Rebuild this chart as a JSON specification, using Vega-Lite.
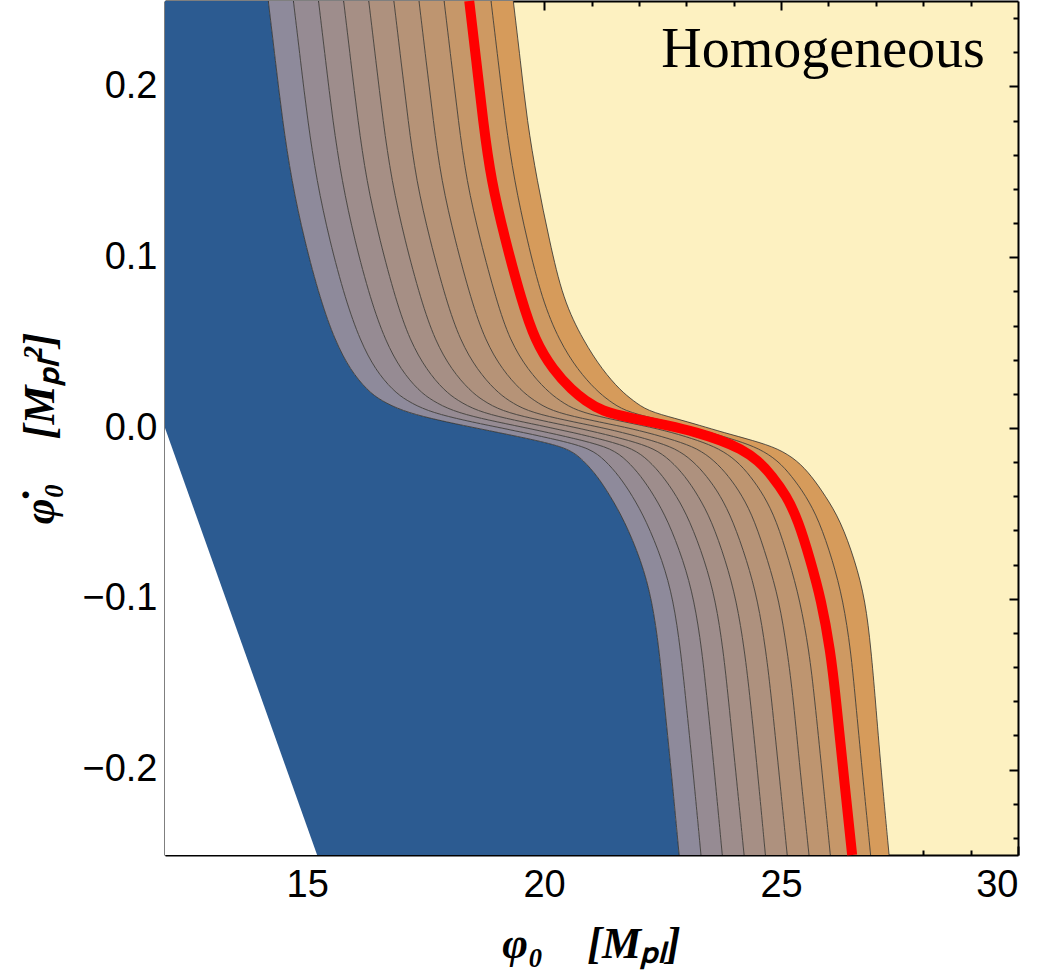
{
 "$schema": "https://vega.github.io/schema/vega-lite/v6.json",
 "width": 853, "height": 854,
 "autosize": {"type": "none"},
 "padding": {"left": 165, "top": 1, "right": 24, "bottom": 120},
 "background": "white",
 "config": {
  "view": {"fill": "#FDF1C1", "stroke": null},
  "axis": {"zindex": 1, "grid": false, "domainColor": "#000", "tickColor": "#000", "labelColor": "#000", "titleColor": "#000",
   "labelFont": "Liberation Sans", "labelFontSize": 38, "labelFontWeight": "normal",
   "titleFont": "Liberation Serif", "titleFontSize": 44, "titleFontWeight": "bold", "titleFontStyle": "italic",
   "domainWidth": 2, "tickWidth": 2}
 },
 "datasets": {
  "band": [
   {"y": 0.25, "c0": 14.18, "c1": 14.71, "c2": 15.24, "c3": 15.77, "c4": 16.30, "c5": 16.83, "c6": 17.36, "c7": 17.89, "c8": 18.42, "c9": 18.88, "c10": 19.35},
   {"y": 0.215, "c0": 14.33, "c1": 14.86, "c2": 15.39, "c3": 15.92, "c4": 16.45, "c5": 16.98, "c6": 17.51, "c7": 18.04, "c8": 18.57, "c9": 19.03, "c10": 19.50},
   {"y": 0.18, "c0": 14.48, "c1": 15.01, "c2": 15.54, "c3": 16.07, "c4": 16.60, "c5": 17.13, "c6": 17.66, "c7": 18.19, "c8": 18.71, "c9": 19.18, "c10": 19.64},
   {"y": 0.145, "c0": 14.67, "c1": 15.20, "c2": 15.73, "c3": 16.25, "c4": 16.78, "c5": 17.30, "c6": 17.83, "c7": 18.36, "c8": 18.88, "c9": 19.37, "c10": 19.85},
   {"y": 0.11, "c0": 14.94, "c1": 15.47, "c2": 16.00, "c3": 16.53, "c4": 17.06, "c5": 17.59, "c6": 18.12, "c7": 18.65, "c8": 19.18, "c9": 19.64, "c10": 20.11},
   {"y": 0.075, "c0": 15.28, "c1": 15.81, "c2": 16.34, "c3": 16.87, "c4": 17.40, "c5": 17.93, "c6": 18.46, "c7": 18.99, "c8": 19.52, "c9": 19.96, "c10": 20.40},
   {"y": 0.051, "c0": 15.59, "c1": 16.12, "c2": 16.65, "c3": 17.17, "c4": 17.70, "c5": 18.23, "c6": 18.76, "c7": 19.28, "c8": 19.81, "c9": 20.32, "c10": 20.83},
   {"y": 0.034, "c0": 15.91, "c1": 16.44, "c2": 16.98, "c3": 17.52, "c4": 18.05, "c5": 18.59, "c6": 19.12, "c7": 19.66, "c8": 20.19, "c9": 20.71, "c10": 21.23},
   {"y": 0.022, "c0": 16.27, "c1": 16.81, "c2": 17.35, "c3": 17.89, "c4": 18.43, "c5": 18.97, "c6": 19.51, "c7": 20.05, "c8": 20.59, "c9": 21.10, "c10": 21.61},
   {"y": 0.016, "c0": 16.56, "c1": 17.10, "c2": 17.64, "c3": 18.18, "c4": 18.71, "c5": 19.25, "c6": 19.79, "c7": 20.33, "c8": 20.87, "c9": 21.37, "c10": 21.88},
   {"y": 0.010, "c0": 17.01, "c1": 17.53, "c2": 18.06, "c3": 18.58, "c4": 19.10, "c5": 19.63, "c6": 20.15, "c7": 20.68, "c8": 21.20, "c9": 21.69, "c10": 22.18},
   {"y": 0.0056, "c0": 17.60, "c1": 18.13, "c2": 18.66, "c3": 19.19, "c4": 19.73, "c5": 20.26, "c6": 20.79, "c7": 21.33, "c8": 21.86, "c9": 22.31, "c10": 22.77},
   {"y": 0.0015, "c0": 18.29, "c1": 18.83, "c2": 19.37, "c3": 19.91, "c4": 20.46, "c5": 21.00, "c6": 21.54, "c7": 22.08, "c8": 22.62, "c9": 22.96, "c10": 23.29},
   {"y": -0.0026, "c0": 19.03, "c1": 19.56, "c2": 20.08, "c3": 20.61, "c4": 21.13, "c5": 21.66, "c6": 22.18, "c7": 22.71, "c8": 23.23, "c9": 23.50, "c10": 23.78},
   {"y": -0.0073, "c0": 19.85, "c1": 20.34, "c2": 20.82, "c3": 21.31, "c4": 21.80, "c5": 22.28, "c6": 22.77, "c7": 23.25, "c8": 23.74, "c9": 24.07, "c10": 24.41},
   {"y": -0.012, "c0": 20.53, "c1": 20.98, "c2": 21.43, "c3": 21.88, "c4": 22.33, "c5": 22.78, "c6": 23.24, "c7": 23.69, "c8": 24.14, "c9": 24.54, "c10": 24.94},
   {"y": -0.019, "c0": 20.83, "c1": 21.29, "c2": 21.75, "c3": 22.21, "c4": 22.67, "c5": 23.13, "c6": 23.59, "c7": 24.06, "c8": 24.52, "c9": 24.93, "c10": 25.34},
   {"y": -0.028, "c0": 21.12, "c1": 21.58, "c2": 22.04, "c3": 22.50, "c4": 22.97, "c5": 23.43, "c6": 23.89, "c7": 24.35, "c8": 24.81, "c9": 25.22, "c10": 25.64},
   {"y": -0.0395, "c0": 21.39, "c1": 21.86, "c2": 22.32, "c3": 22.79, "c4": 23.25, "c5": 23.72, "c6": 24.18, "c7": 24.64, "c8": 25.11, "c9": 25.52, "c10": 25.93},
   {"y": -0.054, "c0": 21.69, "c1": 22.15, "c2": 22.61, "c3": 23.07, "c4": 23.53, "c5": 23.98, "c6": 24.44, "c7": 24.90, "c8": 25.36, "c9": 25.80, "c10": 26.25},
   {"y": -0.0775, "c0": 22.05, "c1": 22.50, "c2": 22.94, "c3": 23.39, "c4": 23.83, "c5": 24.28, "c6": 24.72, "c7": 25.17, "c8": 25.62, "c9": 26.09, "c10": 26.56},
   {"y": -0.101, "c0": 22.28, "c1": 22.73, "c2": 23.17, "c3": 23.62, "c4": 24.06, "c5": 24.51, "c6": 24.96, "c7": 25.40, "c8": 25.85, "c9": 26.31, "c10": 26.78},
   {"y": -0.13, "c0": 22.43, "c1": 22.88, "c2": 23.33, "c3": 23.78, "c4": 24.23, "c5": 24.68, "c6": 25.13, "c7": 25.59, "c8": 26.04, "c9": 26.47, "c10": 26.90},
   {"y": -0.159, "c0": 22.53, "c1": 22.99, "c2": 23.44, "c3": 23.89, "c4": 24.35, "c5": 24.80, "c6": 25.26, "c7": 25.71, "c8": 26.16, "c9": 26.57, "c10": 26.99},
   {"y": -0.2, "c0": 22.68, "c1": 23.14, "c2": 23.59, "c3": 24.04, "c4": 24.50, "c5": 24.95, "c6": 25.40, "c7": 25.86, "c8": 26.31, "c9": 26.71, "c10": 27.11},
   {"y": -0.25, "c0": 22.85, "c1": 23.31, "c2": 23.76, "c3": 24.22, "c4": 24.67, "c5": 25.13, "c6": 25.59, "c7": 26.04, "c8": 26.50, "c9": 26.89, "c10": 27.28}
  ],
  "tri": [
   {"y": 0, "a": 12, "b": 12},
   {"y": -0.25, "a": 12, "b": 15.21}
  ],
  "lbl": [
   {"t": "Homogeneous", "x": 29.3, "y": 0.2115}
  ]
 },
 "layer": [
  {"data": {"name": "band"}, "mark": {"type": "area", "orient": "horizontal", "interpolate": "basis", "color": "#2C5B91"},
   "encoding": {"y": {"field": "y", "type": "quantitative", "scale": {"domain": [-0.25, 0.25], "nice": false, "zero": false}, "axis": null},
    "x": {"field": "c0", "type": "quantitative", "scale": {"domain": [12, 30], "nice": false, "zero": false}, "axis": null},
    "x2": {"datum": 12}}},
  {"data": {"name": "band"}, "mark": {"type": "area", "orient": "horizontal", "interpolate": "basis", "color": "#8E8A9B"},
   "encoding": {"y": {"field": "y", "type": "quantitative", "scale": {"domain": [-0.25, 0.25], "nice": false, "zero": false},
     "axis": {"orient": "left", "values": [-0.2, -0.1, 0, 0.1, 0.2], "format": ".1f", "tickSize": -9, "labelPadding": 17, "domain": true,
      "title": "φ̇₀\u2003[Mₚₗ²]", "titleAngle": 270, "titleX": -112, "titleY": 427, "titleAlign": "center", "titleBaseline": "alphabetic"}},
    "x": {"field": "c0", "type": "quantitative", "scale": {"domain": [12, 30], "nice": false, "zero": false},
     "axis": {"orient": "bottom", "values": [15, 20, 25, 30], "tickSize": -9, "labelPadding": 20, "domain": true,
      "title": "φ₀\u2003[Mₚₗ]", "titleX": 426, "titleY": 102, "titleAlign": "center", "titleBaseline": "alphabetic"}},
    "x2": {"field": "c1"}}},
  {"data": {"name": "band"}, "mark": {"type": "area", "orient": "horizontal", "interpolate": "basis", "color": "#968B93"},
   "encoding": {"y": {"field": "y", "type": "quantitative", "scale": {"domain": [-0.25, 0.25], "nice": false, "zero": false},
     "axis": {"orient": "left", "values": [-0.24, -0.22, -0.18, -0.16, -0.14, -0.12, -0.08, -0.06, -0.04, -0.02, 0.02, 0.04, 0.06, 0.08, 0.12, 0.14, 0.16, 0.18, 0.22, 0.24], "tickSize": -5, "labels": false, "domain": false, "title": null}},
    "x": {"field": "c1", "type": "quantitative", "scale": {"domain": [12, 30], "nice": false, "zero": false},
     "axis": {"orient": "bottom", "values": [13, 14, 16, 17, 18, 19, 21, 22, 23, 24, 26, 27, 28, 29], "tickSize": -5, "labels": false, "domain": false, "title": null}},
    "x2": {"field": "c2"}}},
  {"data": {"name": "band"}, "mark": {"type": "area", "orient": "horizontal", "interpolate": "basis", "color": "#9E8D8C"},
   "encoding": {"y": {"field": "y", "type": "quantitative", "scale": {"domain": [-0.25, 0.25], "nice": false, "zero": false},
     "axis": {"orient": "right", "values": [-0.2, -0.1, 0, 0.1, 0.2], "tickSize": -9, "labels": false, "domain": true, "title": null}},
    "x": {"field": "c2", "type": "quantitative", "scale": {"domain": [12, 30], "nice": false, "zero": false},
     "axis": {"orient": "top", "values": [15, 20, 25], "tickSize": -9, "labels": false, "domain": true, "title": null}},
    "x2": {"field": "c3"}}},
  {"data": {"name": "band"}, "mark": {"type": "area", "orient": "horizontal", "interpolate": "basis", "color": "#A68F85"},
   "encoding": {"y": {"field": "y", "type": "quantitative", "scale": {"domain": [-0.25, 0.25], "nice": false, "zero": false},
     "axis": {"orient": "right", "values": [-0.24, -0.22, -0.18, -0.16, -0.14, -0.12, -0.08, -0.06, -0.04, -0.02, 0.02, 0.04, 0.06, 0.08, 0.12, 0.14, 0.16, 0.18, 0.22, 0.24], "tickSize": -5, "labels": false, "domain": false, "title": null}},
    "x": {"field": "c3", "type": "quantitative", "scale": {"domain": [12, 30], "nice": false, "zero": false},
     "axis": {"orient": "top", "values": [13, 14, 16, 17, 18, 19, 21, 22, 23, 24, 26, 27, 28, 29], "tickSize": -5, "labels": false, "domain": false, "title": null}},
    "x2": {"field": "c4"}}},
  {"data": {"name": "band"}, "mark": {"type": "area", "orient": "horizontal", "interpolate": "basis", "color": "#AE917E"},
   "encoding": {"y": {"field": "y", "type": "quantitative", "scale": {"domain": [-0.25, 0.25], "nice": false, "zero": false}, "axis": null},
    "x": {"field": "c4", "type": "quantitative", "scale": {"domain": [12, 30], "nice": false, "zero": false}, "axis": null},
    "x2": {"field": "c5"}}},
  {"data": {"name": "band"}, "mark": {"type": "area", "orient": "horizontal", "interpolate": "basis", "color": "#B69377"},
   "encoding": {"y": {"field": "y", "type": "quantitative", "scale": {"domain": [-0.25, 0.25], "nice": false, "zero": false}, "axis": null},
    "x": {"field": "c5", "type": "quantitative", "scale": {"domain": [12, 30], "nice": false, "zero": false}, "axis": null},
    "x2": {"field": "c6"}}},
  {"data": {"name": "band"}, "mark": {"type": "area", "orient": "horizontal", "interpolate": "basis", "color": "#BE9570"},
   "encoding": {"y": {"field": "y", "type": "quantitative", "scale": {"domain": [-0.25, 0.25], "nice": false, "zero": false}, "axis": null},
    "x": {"field": "c6", "type": "quantitative", "scale": {"domain": [12, 30], "nice": false, "zero": false}, "axis": null},
    "x2": {"field": "c7"}}},
  {"data": {"name": "band"}, "mark": {"type": "area", "orient": "horizontal", "interpolate": "basis", "color": "#C69769"},
   "encoding": {"y": {"field": "y", "type": "quantitative", "scale": {"domain": [-0.25, 0.25], "nice": false, "zero": false}, "axis": null},
    "x": {"field": "c7", "type": "quantitative", "scale": {"domain": [12, 30], "nice": false, "zero": false}, "axis": null},
    "x2": {"field": "c8"}}},
  {"data": {"name": "band"}, "mark": {"type": "area", "orient": "horizontal", "interpolate": "basis", "color": "#CE9962"},
   "encoding": {"y": {"field": "y", "type": "quantitative", "scale": {"domain": [-0.25, 0.25], "nice": false, "zero": false}, "axis": null},
    "x": {"field": "c8", "type": "quantitative", "scale": {"domain": [12, 30], "nice": false, "zero": false}, "axis": null},
    "x2": {"field": "c9"}}},
  {"data": {"name": "band"}, "mark": {"type": "area", "orient": "horizontal", "interpolate": "basis", "color": "#D69B5B"},
   "encoding": {"y": {"field": "y", "type": "quantitative", "scale": {"domain": [-0.25, 0.25], "nice": false, "zero": false}, "axis": null},
    "x": {"field": "c9", "type": "quantitative", "scale": {"domain": [12, 30], "nice": false, "zero": false}, "axis": null},
    "x2": {"field": "c10"}}},
  {"data": {"name": "tri"}, "mark": {"type": "area", "orient": "horizontal", "color": "#FFFFFF"},
   "encoding": {"y": {"field": "y", "type": "quantitative", "scale": {"domain": [-0.25, 0.25], "nice": false, "zero": false}, "axis": null},
    "x": {"field": "a", "type": "quantitative", "scale": {"domain": [12, 30], "nice": false, "zero": false}, "axis": null},
    "x2": {"field": "b"}}},
  {"data": {"name": "band"},
   "transform": [{"fold": ["c0", "c1", "c2", "c3", "c4", "c5", "c6", "c7", "c8", "c9", "c10"], "as": ["k", "v"]}],
   "mark": {"type": "line", "interpolate": "basis", "stroke": "#2E2E2E", "strokeWidth": 1, "opacity": 0.8},
   "encoding": {"y": {"field": "y", "type": "quantitative", "scale": {"domain": [-0.25, 0.25], "nice": false, "zero": false}, "axis": null},
    "x": {"field": "v", "type": "quantitative", "scale": {"domain": [12, 30], "nice": false, "zero": false}, "axis": null},
    "detail": {"field": "k", "type": "nominal"},
    "order": {"field": "y", "type": "quantitative"}}},
  {"data": {"name": "band"},
   "mark": {"type": "line", "interpolate": "basis", "stroke": "#FF0000", "strokeWidth": 10},
   "encoding": {"y": {"field": "y", "type": "quantitative", "scale": {"domain": [-0.25, 0.25], "nice": false, "zero": false}, "axis": null},
    "x": {"field": "c8", "type": "quantitative", "scale": {"domain": [12, 30], "nice": false, "zero": false}, "axis": null},
    "order": {"field": "y", "type": "quantitative"}}},
  {"data": {"name": "lbl"},
   "mark": {"type": "text", "font": "Liberation Serif", "fontSize": 56, "align": "right", "baseline": "alphabetic", "color": "#000"},
   "encoding": {"y": {"field": "y", "type": "quantitative", "scale": {"domain": [-0.25, 0.25], "nice": false, "zero": false}, "axis": null},
    "x": {"field": "x", "type": "quantitative", "scale": {"domain": [12, 30], "nice": false, "zero": false}, "axis": null},
    "text": {"field": "t", "type": "nominal"}}}
 ],
 "resolve": {"axis": {"x": "independent", "y": "independent"}}
}
